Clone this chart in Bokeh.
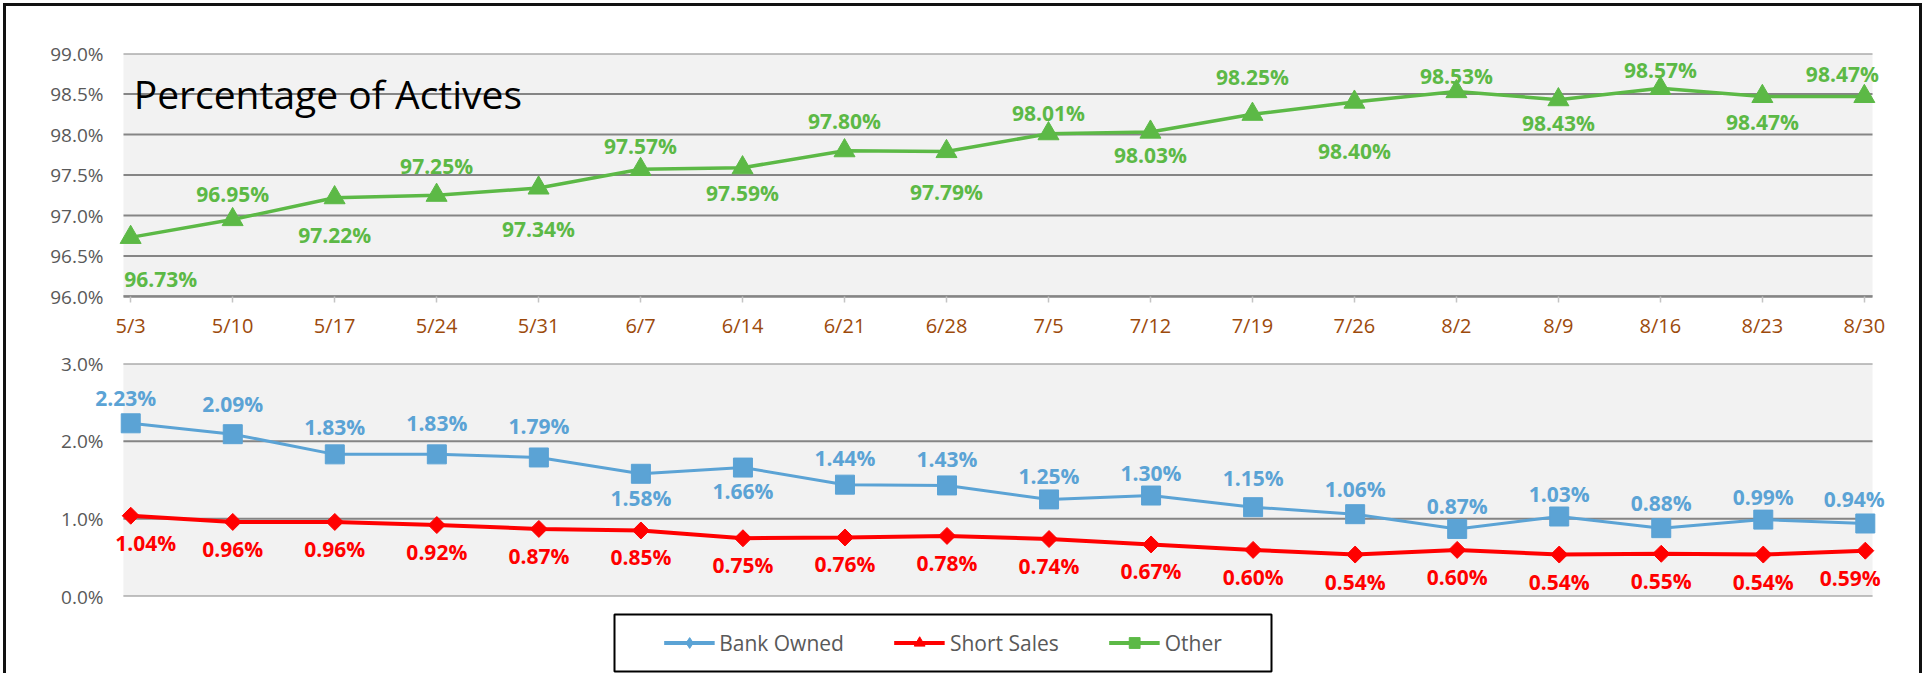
from bokeh.plotting import figure
from bokeh.models import (Range1d, FixedTicker, PrintfTickFormatter, ColumnDataSource,
                          Label, Legend, LegendItem, Spacer, BoxAnnotation)
from bokeh.layouts import column, row
from bokeh.embed import file_html
from bokeh.resources import INLINE
from bokeh.core.properties import value
import math

# ---------------- data ----------------
weeks = ["5/3", "5/10", "5/17", "5/24", "5/31", "6/7", "6/14", "6/21", "6/28",
         "7/5", "7/12", "7/19", "7/26", "8/2", "8/9", "8/16", "8/23", "8/30"]
other = [96.73, 96.95, 97.22, 97.25, 97.34, 97.57, 97.59, 97.80, 97.79,
         98.01, 98.03, 98.25, 98.40, 98.53, 98.43, 98.57, 98.47, 98.47]
bank_owned = [2.23, 2.09, 1.83, 1.83, 1.79, 1.58, 1.66, 1.44, 1.43,
              1.25, 1.30, 1.15, 1.06, 0.87, 1.03, 0.88, 0.99, 0.94]
short_sales = [1.04, 0.96, 0.96, 0.92, 0.87, 0.85, 0.75, 0.76, 0.78,
               0.74, 0.67, 0.60, 0.54, 0.60, 0.54, 0.55, 0.54, 0.59]
top_ticks = [96.0, 96.5, 97.0, 97.5, 98.0, 98.5, 99.0]
bottom_ticks = [0.0, 1.0, 2.0, 3.0]
title_text = "Percentage of Actives"
series_names = ["Bank Owned", "Short Sales", "Other"]

# ---------------- styling ----------------
FONT = "Open Sans"
GREEN = "#5CB946"
BLUE = "#5BA3D5"
RED = "#FF0000"
BROWN = "#9C4A0B"
GRAY_TXT = "#595959"
GRID = "#858585"
BG = "#F2F2F2"

# label offsets in screen pixels, positive = downward (placement styling, not data)
green_dy = [42, -26, 37, -29, 41, -23, 25, -30, 40, -21, 23, -37, 49, -16, 23, -18, 26, -22]
blue_dy = [-25, -30, -27, -31, -31, 24, 23, -27, -26, -23, -23, -29, -25, -23, -23, -25, -23, -24]
red_dy = [27] * len(weeks)
n = len(weeks)
idx = list(range(n))

PAD_L, PAD_R = 40, 20   # extra canvas room so that edge labels are not clipped


def dx(first, last):
    d = [0] * n
    d[0] = first
    d[-1] = last
    return d


def make_panel(height, x0, x1, px_left, px_right, ticks, min_top, min_bottom, xaxis):
    """plot area spans [x0, x1] between screen columns px_left..px_right."""
    upp = (x1 - x0) / (px_right - px_left)  # data units per pixel
    p = figure(width=1925, height=height, title=None,
               x_range=Range1d(x0 - PAD_L * upp, x1 + PAD_R * upp),
               y_range=Range1d(ticks[0], ticks[-1]),
               output_backend="svg", toolbar_location=None,
               min_border_left=px_left - PAD_L, min_border_right=1925 - px_right - PAD_R,
               min_border_top=min_top, min_border_bottom=min_bottom,
               x_axis_location="below" if xaxis else None,
               background_fill_color="white", border_fill_color="white",
               outline_line_color=None)
    p.add_layout(BoxAnnotation(left=x0, right=x1, bottom=ticks[0], top=ticks[-1],
                               fill_color=BG, fill_alpha=1, line_color=None,
                               level="underlay"))
    p.segment(x0=[x0] * len(ticks), y0=ticks, x1=[x1] * len(ticks), y1=ticks,
              line_color=GRID, line_width=2)
    p.xgrid.visible = False
    p.ygrid.visible = False
    p.yaxis.ticker = FixedTicker(ticks=ticks)
    p.yaxis.formatter = PrintfTickFormatter(format="%.1f%%")
    p.yaxis.axis_line_color = None
    p.yaxis.major_tick_line_color = None
    p.yaxis.major_tick_in = 0
    p.yaxis.major_tick_out = 0
    p.yaxis.minor_tick_line_color = None
    p.yaxis.major_label_standoff = 20 - PAD_L
    p.yaxis.major_label_text_font = FONT
    p.yaxis.major_label_text_font_size = "19px"
    p.yaxis.major_label_text_color = GRAY_TXT
    return p


def add_value_labels(p, vals, color, xoff, yoff):
    src = ColumnDataSource(dict(x=idx, y=vals, label=["%.2f%%" % v for v in vals],
                                xo=xoff, yo=yoff))
    p.text("x", "y", text="label", source=src, x_offset="xo", y_offset="yo",
           text_font=value(FONT), text_font_style="bold", text_font_size="21px",
           text_color=color, text_align="center", text_baseline="middle")


# ---------------- top chart ----------------
TX0, TX1 = -0.07, 17.08
top = make_panel(345, TX0, TX1, 123, 1872, top_ticks, 53, 49, True)

top.xaxis.bounds = (TX0, TX1)
top.xaxis.ticker = FixedTicker(ticks=idx)
top.xaxis.major_label_overrides = {i: w for i, w in enumerate(weeks)}
top.xaxis.axis_line_color = GRID
top.xaxis.axis_line_width = 2.5
top.xaxis.major_tick_line_color = "#C4C4C4"
top.xaxis.major_tick_line_width = 1.5
top.xaxis.major_tick_in = 0
top.xaxis.major_tick_out = 6
top.xaxis.minor_tick_line_color = None
top.xaxis.major_label_standoff = 9
top.xaxis.major_label_text_font = FONT
top.xaxis.major_label_text_font_size = "20px"
top.xaxis.major_label_text_color = BROWN

src_other = ColumnDataSource(dict(x=idx, y=other))
top.line("x", "y", source=src_other, line_color=GREEN, line_width=3.5)
top.scatter("x", "y", source=src_other, marker="triangle", size=21,
            fill_color=GREEN, line_color=GREEN)
add_value_labels(top, other, GREEN, dx(30, -22), green_dy)

top.add_layout(Label(x=0.03, y=98.51, text=title_text, text_font=FONT,
                     text_font_size="39px", text_color="black",
                     text_align="left", text_baseline="alphabetic"))

# ---------------- bottom chart ----------------
BX0, BX1 = -0.072, 17.071
bot = make_panel(267, BX0, BX1, 120, 1874, bottom_ticks, 18, 16, False)

src_bank = ColumnDataSource(dict(x=idx, y=bank_owned))
src_short = ColumnDataSource(dict(x=idx, y=short_sales))

bot.line("x", "y", source=src_bank, line_color=BLUE, line_width=3)
bot.scatter("x", "y", source=src_bank, marker="square", size=19,
            fill_color=BLUE, line_color=BLUE)
bot.line("x", "y", source=src_short, line_color=RED, line_width=4)
bot.scatter("x", "y", source=src_short, marker="square", angle=math.pi / 4, size=12,
            fill_color=RED, line_color=RED)
add_value_labels(bot, bank_owned, BLUE, dx(-5, -11), blue_dy)
add_value_labels(bot, short_sales, RED, dx(15, -15), red_dy)

# ---------------- legend box ----------------
leg = figure(width=661, height=61, title=None,
             x_range=Range1d(0, 1), y_range=Range1d(0, 1),
             output_backend="svg", toolbar_location=None,
             min_border=2, x_axis_location=None, y_axis_location=None,
             background_fill_color="white", border_fill_color="white",
             outline_line_color="black", outline_line_width=2)
leg.xgrid.visible = False
leg.ygrid.visible = False

items = []
for name, vals, col, mk in zip(series_names, [bank_owned, short_sales, other],
                               [BLUE, RED, GREEN], ["diamond", "triangle", "square"]):
    s = ColumnDataSource(dict(x=idx, y=vals))
    rl = leg.line("x", "y", source=s, line_color=col, line_width=4, visible=False)
    rm = leg.scatter("x", "y", source=s, marker=mk, fill_color=col, line_color=col,
                     size=10, visible=False)
    items.append(LegendItem(label=name, renderers=[rl, rm]))

legend = Legend(items=items, orientation="horizontal", location="center",
                glyph_width=51, glyph_height=27, label_standoff=5, spacing=50,
                padding=5, margin=0, border_line_color=None,
                background_fill_alpha=0, inactive_fill_alpha=0,
                label_text_font=FONT, label_text_font_size="21px",
                label_text_color=GRAY_TXT)
leg.add_layout(legend, "center")

layout = column(
    top, bot,
    row(Spacer(width=612, height=61), leg, Spacer(width=652, height=61)),
    stylesheets=[":host { position: relative; overflow: hidden; }"
                 ":host::after { content: ''; position: absolute; left: 3px; top: 3px;"
                 " width: 1919px; height: 740px; border: 3px solid #111;"
                 " box-sizing: border-box; pointer-events: none; z-index: 10; }"],
)

open("out.html", "w").write(file_html(layout, INLINE))
